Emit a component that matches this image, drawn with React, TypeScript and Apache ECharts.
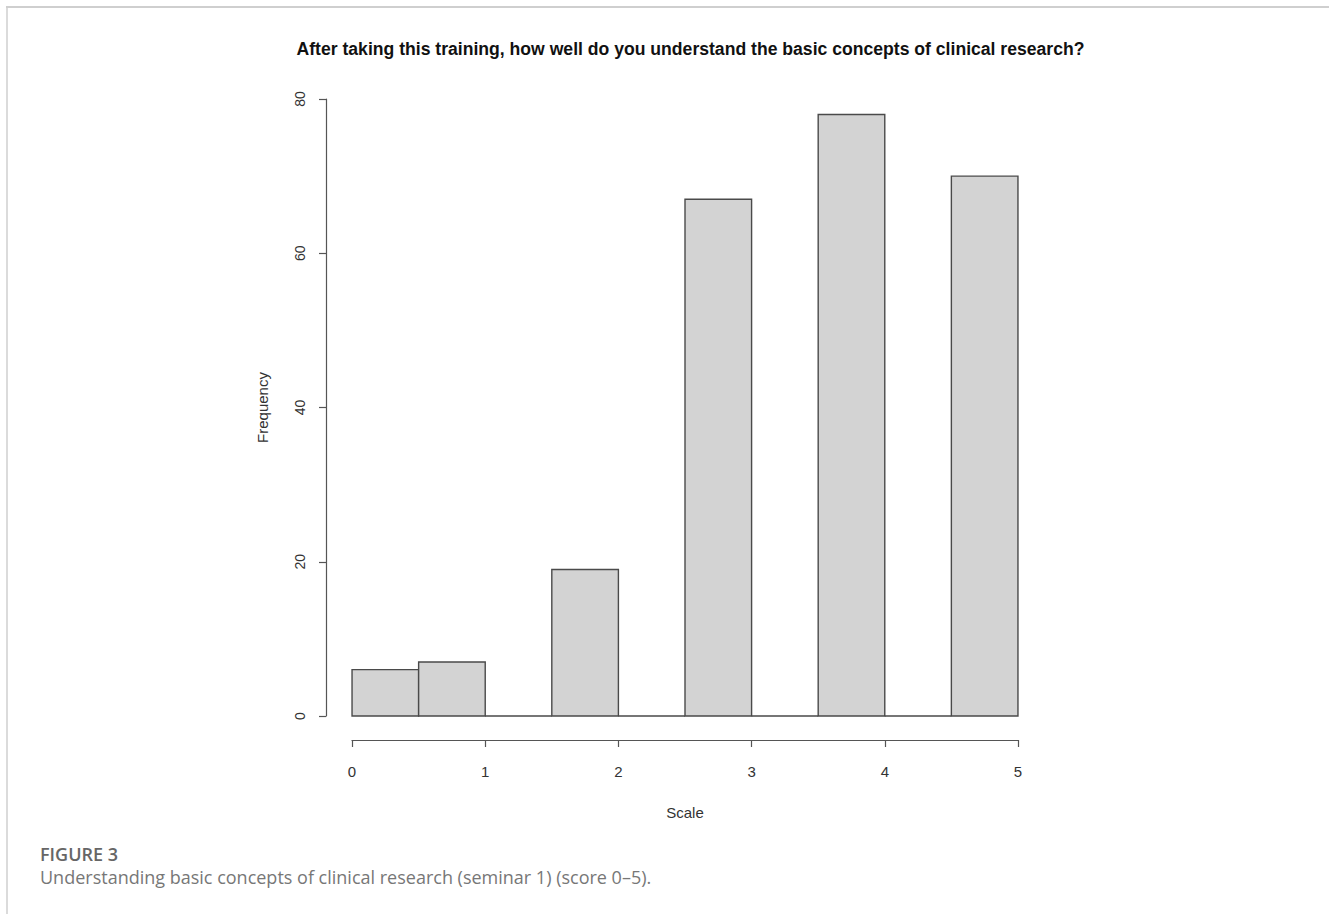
import React, { useEffect, useRef } from "react";
import * as echarts from "echarts";

const binStarts = [0, 0.5, 1, 1.5, 2, 2.5, 3, 3.5, 4, 4.5];
const binWidth = 0.5;
const frequencies = [6, 7, 0, 19, 0, 67, 0, 78, 0, 70];
const xTicks = [0, 1, 2, 3, 4, 5];
const yTicks = [0, 20, 40, 60, 80];
const titleText = "After taking this training, how well do you understand the basic concepts of clinical research?";
const xName = "Scale";
const yName = "Frequency";
const figureLabel = "FIGURE 3";
const figureCaption = "Understanding basic concepts of clinical research (seminar 1) (score 0\u20135).";

export default function App() {
  const ref = useRef<HTMLDivElement>(null);
  useEffect(() => {
    if (!ref.current) return;
    const chart = echarts.init(ref.current, null, { renderer: "svg" });
    const data = binStarts.map((s, i) => [s, s + binWidth, frequencies[i]]);
    const axisColor = "#555";
    const textColor = "#333";
    const font = "'Liberation Sans', Arial, sans-serif";
    const capFont = "'Open Sans', Lato, sans-serif";
    chart.setOption({
      animation: false,
      backgroundColor: "#fff",
      title: {
        text: titleText,
        left: 685.5,
        top: 35,
        textAlign: "center",
        textStyle: { fontFamily: font, fontWeight: "bold", fontSize: 17.6, color: "#111" },
      },
      grid: [
        { left: 325.4, right: 284.4, top: 90.4, bottom: 174 },
        { left: 352, right: 311, top: 700, bottom: 174 },
        { left: 326, width: 10, top: 99, bottom: 198 },
      ],
      xAxis: [
        { gridIndex: 0, type: "value", min: -0.2, max: 5.2, show: false },
        {
          gridIndex: 1,
          type: "value",
          min: xTicks[0],
          max: xTicks[xTicks.length - 1],
          interval: 1,
          position: "bottom",
          axisLine: { show: true, lineStyle: { color: axisColor, width: 1.2 } },
          axisTick: { show: true, length: 7, lineStyle: { color: axisColor, width: 1.2 } },
          splitLine: { show: false },
          axisLabel: { margin: 24, fontSize: 15, color: textColor, fontFamily: font },
          name: xName,
          nameLocation: "middle",
          nameGap: 65,
          nameTextStyle: { fontSize: 15, color: textColor, fontFamily: font },
        },
        { gridIndex: 2, type: "value", min: 0, max: 1, show: false },
      ],
      yAxis: [
        { gridIndex: 0, type: "value", min: -3.12, max: 81.12, show: false },
        { gridIndex: 1, type: "value", min: 0, max: 1, show: false },
        {
          gridIndex: 2,
          type: "value",
          min: yTicks[0],
          max: yTicks[yTicks.length - 1],
          interval: 20,
          position: "left",
          axisLine: { show: true, lineStyle: { color: axisColor, width: 1.2 } },
          axisTick: { show: true, length: 7, lineStyle: { color: axisColor, width: 1.2 } },
          splitLine: { show: false },
          axisLabel: { margin: 19, rotate: 90, fontSize: 14, color: textColor, fontFamily: font },
          name: yName,
          nameLocation: "middle",
          nameGap: 56,
          nameRotate: 90,
          nameTextStyle: { fontSize: 15, color: textColor, fontFamily: font },
        },
      ],
      series: [
        {
          type: "custom",
          xAxisIndex: 0,
          yAxisIndex: 0,
          data,
          renderItem: (params: any, api: any) => {
            const p0 = api.coord([api.value(0), api.value(2)]);
            const p1 = api.coord([api.value(1), 0]);
            return {
              type: "rect",
              shape: { x: p0[0], y: p0[1], width: p1[0] - p0[0], height: p1[1] - p0[1] },
              style: { fill: "#d3d3d3", stroke: "#4a4a4a", lineWidth: 1.4 },
            };
          },
        },
      ],
      graphic: [
        { type: "line", shape: { x1: 6, y1: 7, x2: 1329, y2: 7 }, style: { stroke: "#cfcfcf", lineWidth: 2 } },
        { type: "line", shape: { x1: 7, y1: 7, x2: 7, y2: 914 }, style: { stroke: "#cfcfcf", lineWidth: 1.5 } },
        {
          type: "text",
          x: 40,
          y: 845,
          style: { text: figureLabel, fontFamily: capFont, fontWeight: 600, fontSize: 18, fill: "#666" },
        },
        {
          type: "text",
          x: 40,
          y: 868,
          style: { text: figureCaption, fontFamily: capFont, fontWeight: 400, fontSize: 18, fill: "#777" },
        },
      ],
    });
    return () => chart.dispose();
  }, []);
  return <div ref={ref} style={{ position: "fixed", left: 0, top: 0, width: 1329, height: 914 }} />;
}
